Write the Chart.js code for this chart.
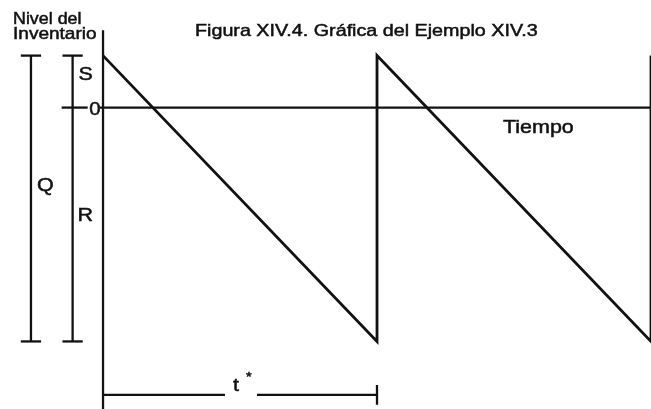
<!DOCTYPE html>
<html lang="es">
<head>
<meta charset="utf-8">
<title>Figura XIV.4</title>
<script src="https://cdn.jsdelivr.net/npm/chart.js@4.4.1/dist/chart.umd.min.js"></script>
<style>
  html, body { margin: 0; padding: 0; background: #fff; }
  #wrap { width: 651px; height: 409px; }
</style>
</head>
<body>
<div id="wrap"><canvas id="inventoryChart" width="651" height="409"></canvas></div>
<script>
// inventory level over time: one order cycle lasts t*
const sawTime = [0, 1, 1, 2, 2];
const sawLevel = [10, -45, 10, -45, 10];

// S = top of the cycle, R = deepest shortage, Q = S + R
const levelS = 10;
const levelR = -45;
const levelZero = 0;
const cycleStart = 0;
const cycleEnd = 1;

const ink = "#111";
const xMin = -0.376;
const xMax = 2.0;
const yMin = -58;
const yMax = 20.7;

function segment(x1, y1, x2, y2, width) {
  return {
    data: [
      { x: x1, y: y1 },
      { x: x2, y: y2 },
    ],
    showLine: true,
    borderColor: ink,
    borderWidth: width || 2.3,
    pointRadius: 0,
    pointHoverRadius: 0,
    fill: false,
    tension: 0,
  };
}

// bracket positions left of the level axis
const qX = -0.263;
const srX = -0.111;
const tick = 0.037;
const dimY = -55.3;
const gapFrom = 0.445;
const gapTo = 0.562;

const datasets = [
  {
    data: sawTime.map((t, i) => ({ x: t, y: sawLevel[i] })),
    showLine: true,
    borderColor: ink,
    borderWidth: 2.8,
    pointRadius: 0,
    pointHoverRadius: 0,
    fill: false,
    tension: 0,
  },
  // time axis and level axis
  segment(-0.012, levelZero, xMax, levelZero),
  segment(cycleStart, 14.9, cycleStart, yMin),
  // Q bracket
  segment(qX, levelS, qX, levelR),
  segment(qX - tick, levelS, qX + tick, levelS),
  segment(qX - tick, levelR, qX + tick, levelR),
  // S / R bracket
  segment(srX, levelS, srX, levelR),
  segment(srX - tick, levelS, srX + tick, levelS),
  segment(srX - 0.04, levelZero, srX + 0.055, levelZero),
  segment(srX - tick, levelR, srX + tick, levelR),
  // t* dimension line
  segment(cycleStart, dimY, gapFrom, dimY),
  segment(gapTo, dimY, cycleEnd, dimY),
  segment(cycleEnd, dimY + 1.9, cycleEnd, dimY - 1.9),
];

function drawText(ctx, text, x, y, size, align, stretch) {
  ctx.save();
  ctx.font = `${size}px "Liberation Sans", Arial, sans-serif`;
  ctx.fillStyle = ink;
  ctx.strokeStyle = ink;
  ctx.lineWidth = 0.5;
  ctx.textAlign = align || "left";
  ctx.textBaseline = "alphabetic";
  ctx.translate(x, y);
  ctx.scale(stretch || 1.13, 1);
  ctx.fillText(text, 0, 0);
  ctx.strokeText(text, 0, 0);
  ctx.restore();
}

const labelsPlugin = {
  id: "figureLabels",
  afterDraw(chart) {
    const { ctx } = chart;
    const xs = chart.scales.x;
    const ys = chart.scales.y;
    const px = (v) => xs.getPixelForValue(v);
    const py = (v) => ys.getPixelForValue(v);

    drawText(ctx, "Figura XIV.4. Gráfica del Ejemplo XIV.3", 195, 36, 17, "left", 1.16);
    drawText(ctx, "Nivel del", 13, 24, 17, "left", 1.05);
    drawText(ctx, "Inventario", 13, 39, 17, "left", 1.12);

    drawText(ctx, "S", px(srX) + 6, py(levelS) + 24, 19);
    drawText(ctx, "Q", px(qX) + 6, py(levelS) + 135, 19);
    drawText(ctx, "R", px(srX) + 5, py(levelS) + 165, 19);
    drawText(ctx, "0", px(cycleStart) - 8, py(levelZero) + 7, 18, "center");
    drawText(ctx, "Tiempo", 503, py(levelZero) + 25, 19);

    drawText(ctx, "t", px((gapFrom + gapTo) / 2) - 5, py(dimY) - 4, 19, "center");
    drawText(ctx, "*", px((gapFrom + gapTo) / 2) + 8, py(dimY) - 14, 13, "center");
  },
};

const bgPlugin = {
  id: "whiteBackground",
  beforeDraw(chart) {
    const { ctx } = chart;
    ctx.save();
    ctx.fillStyle = "#fff";
    ctx.fillRect(0, 0, chart.width, chart.height);
    ctx.restore();
  },
};

new Chart(document.getElementById("inventoryChart"), {
  type: "scatter",
  data: { datasets },
  options: {
    responsive: false,
    animation: false,
    layout: { padding: 0 },
    scales: {
      x: { type: "linear", min: xMin, max: xMax, display: false },
      y: { type: "linear", min: yMin, max: yMax, display: false },
    },
    plugins: {
      legend: { display: false },
      tooltip: { enabled: false },
      title: { display: false },
    },
    clip: false,
  },
  plugins: [bgPlugin, labelsPlugin],
});
</script>
</body>
</html>
